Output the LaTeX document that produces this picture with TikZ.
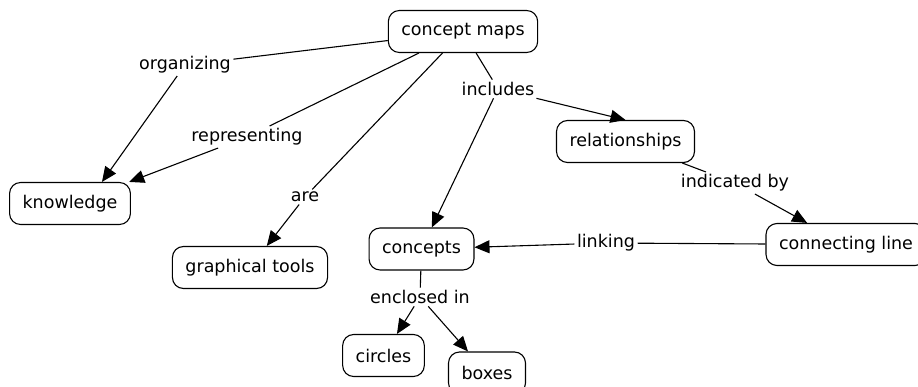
\documentclass[tikz,border=0pt]{standalone}
\usepackage{fontspec}
\setmainfont{DejaVu Sans}
\usepackage{tikz}
\usetikzlibrary{arrows.meta}

\begin{document}
\begin{tikzpicture}[x=1pt,y=-1pt,->,>={Triangle[length=15pt,width=13pt]},
    line width=1.1pt,font=\fontsize{17.5}{21}\selectfont,
    concept/.style={draw,rounded corners=11pt,minimum height=42pt,inner xsep=13pt},
    phrase/.style={inner sep=2pt}]

\useasboundingbox (0,0) rectangle (918,387);

% concepts
\node[concept] (maps)      at (463,31.5)  {concept maps};
\node[concept] (knowledge) at (70,203.5)  {knowledge};
\node[concept] (tools)     at (250,267.5) {graphical tools};
\node[concept] (concepts)  at (421.5,249) {concepts};
\node[concept] (relations) at (625.5,141.5) {relationships};
\node[concept] (connline)  at (846,244.5) {connecting line};
\node[concept] (circles)   at (383.5,355.5) {circles};
\node[concept] (boxes)     at (487,373)   {boxes};

% linking phrases
\node[phrase] (organizing)   at (185,65)  {organizing};
\node[phrase] (representing) at (247,137) {representing};
\node[phrase] (are)          at (305,197) {are};
\node[phrase] (includes)     at (498,89)  {includes};
\node[phrase] (indicated)    at (735,183) {indicated by};
\node[phrase] (linking)      at (606,243) {linking};
\node[phrase] (enclosed)     at (420,297) {enclosed in};

\path
    (maps) edge[-]        (organizing)
    (organizing) edge     (knowledge.34)
    (maps) edge[-]        (representing)
    (representing) edge   (knowledge.20)
    (maps) edge[-]        (are)
    (are) edge            (tools)
    (maps) edge[-]        (includes)
    (includes) edge       (relations.north)
    (includes) edge       (concepts)
    (relations) edge[-]   (indicated)
    (indicated) edge      (connline)
    (connline) edge[-]    (linking)
    (linking) edge        (concepts)
    (concepts) edge[-]    (enclosed)
    (enclosed) edge       (circles)
    (enclosed) edge       (boxes);

\end{tikzpicture}
\end{document}
